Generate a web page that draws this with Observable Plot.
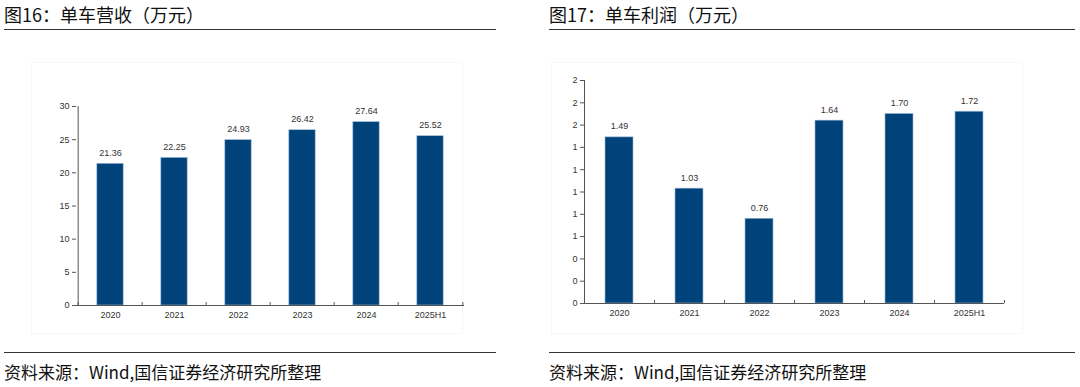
<!DOCTYPE html>
<html><head><meta charset="utf-8">
<script src="https://cdn.jsdelivr.net/npm/d3@7"></script>
<script src="https://cdn.jsdelivr.net/npm/@observablehq/plot@0.6"></script>
<style>
html,body{margin:0;padding:0;background:#fff;}
#wrap{position:relative;width:1080px;height:387px;overflow:hidden;font-family:"Noto Sans CJK SC",sans-serif;color:#111;}
.title{position:absolute;top:2px;font-size:18px;line-height:24px;}
.cap{position:absolute;top:361px;font-size:17px;line-height:22px;}
.hline{position:absolute;height:0;border-top:1.6px solid #333;}
.box{position:absolute;border:1px solid #f7f7f7;}
.chart{position:absolute;top:40px;}
</style></head>
<body><div id="wrap">
<div class="title" style="left:4px">图16：单车营收（万元）</div>
<div class="title" style="left:549px">图17：单车利润（万元）</div>
<div class="hline" style="left:4px;width:492px;top:29px"></div>
<div class="hline" style="left:549px;width:526px;top:29px"></div>
<div class="box" style="left:31px;top:62px;width:430px;height:270px"></div>
<div class="box" style="left:551px;top:62px;width:470px;height:270px"></div>
<div id="c1" class="chart" style="left:0px"></div>
<div id="c2" class="chart" style="left:540px"></div>
<div class="hline" style="left:4px;width:492px;top:352px"></div>
<div class="hline" style="left:549px;width:526px;top:352px"></div>
<div class="cap" style="left:4px">资料来源：Wind,国信证券经济研究所整理</div>
<div class="cap" style="left:549px">资料来源：Wind,国信证券经济研究所整理</div>
</div>
<script>
const categories = ["2020","2021","2022","2023","2024","2025H1"];
const revenue = [21.36, 22.25, 24.93, 26.42, 27.64, 25.52];
const profit = [1.49, 1.03, 0.76, 1.64, 1.70, 1.72];
const revTicks = [0, 5, 10, 15, 20, 25, 30];
const profTicks = [0, 0.2, 0.4, 0.6, 0.8, 1.0, 1.2, 1.4, 1.6, 1.8, 2.0];

const barFill = "#00427a";
const font = {fontFamily: "Liberation Sans, Arial, sans-serif", fontSize: "9px", color: "#333", background: "transparent"};

function makeChart(vals, ticks, yMax, fmt, o) {
  const data = categories.map((c, i) => ({c, v: vals[i]}));
  const plotW = o.width - o.ml - o.mr;
  const step = plotW / categories.length;
  const inset = (step - o.bw) / 2;
  const tickLen = yMax * 3 / (o.height - o.mt - o.mb);
  const bounds = categories.map(c => ({c, dx: -step / 2})).concat([{c: categories[categories.length - 1], dx: step / 2}]);
  return Plot.plot({
    width: o.width, height: o.height,
    marginLeft: o.ml, marginRight: o.mr, marginTop: o.mt, marginBottom: o.mb,
    style: font,
    x: {domain: categories, padding: 0, label: null},
    y: {domain: [0, yMax], label: null},
    marks: [
      Plot.axisY({ticks, tickFormat: fmt, tickSize: 4, tickPadding: 3, label: null, stroke: "#555"}),
      Plot.axisX({tickSize: 0, tickPadding: 6, label: null}),
      Plot.barY(data, {x: "c", y: "v", fill: barFill, stroke: "#9bb9d6", strokeWidth: 0.6, insetLeft: inset, insetRight: inset}),
      Plot.ruleX([categories[0]], {x: d => d, dx: -step / 2, y1: 0, y2: yMax, stroke: "#555", strokeWidth: 1}),
      Plot.ruleY([0], {stroke: "#555", strokeWidth: 1}),
      ...bounds.map(b => Plot.ruleX([b.c], {x: d => d, dx: b.dx, y1: 0, y2: tickLen, stroke: "#555", strokeWidth: 1})),
      Plot.text(data, {x: "c", y: "v", text: d => d.v.toFixed(2), dy: -11, fill: "#333"})
    ]
  });
}

document.getElementById("c1").appendChild(
  makeChart(revenue, revTicks, 30, d3.format("d"), {width: 540, height: 290, ml: 76, mr: 76, mt: 66, mb: 25, bw: 27})
);
document.getElementById("c2").appendChild(
  makeChart(profit, profTicks, 2, d => d3.format(".0f")(d), {width: 540, height: 290, ml: 44, mr: 76, mt: 40, mb: 27, bw: 28})
);
</script>
</body></html>
